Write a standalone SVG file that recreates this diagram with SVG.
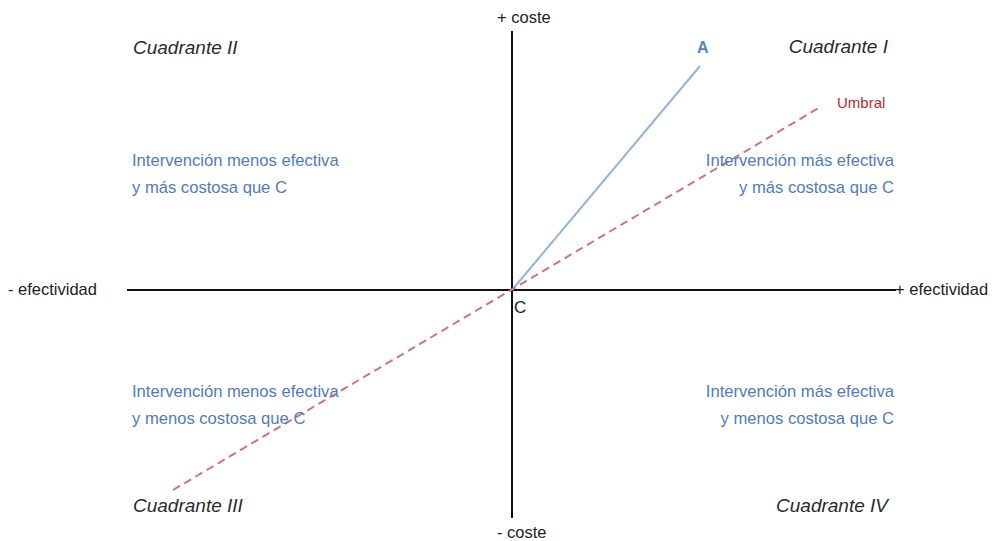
<svg xmlns="http://www.w3.org/2000/svg" width="999" height="541" viewBox="0 0 999 541">
<style>
.q{font-family:"Liberation Sans",Arial,sans-serif;font-style:italic;font-size:19px;fill:#2b2b2b}
.b{font-family:"Liberation Sans",Arial,sans-serif;font-size:16.6px;fill:#4f7bc3}
.ax{font-family:"Liberation Sans",Arial,sans-serif;font-size:16.5px;fill:#222}
.axis{stroke:#111;stroke-width:2;fill:none}
</style>
<rect width="999" height="541" fill="#fff"/>
<g id="connectors">
<line class="axis" x1="512" y1="31" x2="512" y2="518"/>
<line class="axis" x1="127" y1="290" x2="896" y2="290"/>
<line x1="512" y1="290" x2="700" y2="66" stroke="#8fb6dd" stroke-width="2"/>
<line x1="173" y1="490" x2="822" y2="106" stroke="#d3727f" stroke-width="2" stroke-dasharray="8,5"/>
</g>
<g id="axis-labels">
<text class="ax" x="497" y="23">+ coste</text>
<text class="ax" x="497" y="538">- coste</text>
<text class="ax" x="8" y="295">- efectividad</text>
<text class="ax" x="895" y="295">+ efectividad</text>
<text x="514" y="313" font-family="Liberation Sans,Arial,sans-serif" font-size="17" fill="#222">C</text>
<text x="697" y="53" font-family="Liberation Sans,Arial,sans-serif" font-size="16" font-weight="bold" fill="#5b7fc4">A</text>
<text x="837" y="108" font-family="Liberation Sans,Arial,sans-serif" font-size="15" fill="#c0282d">Umbral</text>
</g>
<g id="q1">
<text class="q" x="888" y="53" text-anchor="end">Cuadrante I</text>
<text class="b" x="894" y="166" text-anchor="end">Intervención más efectiva</text>
<text class="b" x="894" y="193" text-anchor="end">y más costosa que C</text>
</g>
<g id="q2">
<text class="q" x="133" y="54">Cuadrante II</text>
<text class="b" x="132" y="166">Intervención menos efectiva</text>
<text class="b" x="132" y="193">y más costosa que C</text>
</g>
<g id="q3">
<text class="q" x="133" y="512">Cuadrante III</text>
<text class="b" x="132" y="397">Intervención menos efectiva</text>
<text class="b" x="132" y="424">y menos costosa que C</text>
</g>
<g id="q4">
<text class="q" x="888" y="512" text-anchor="end">Cuadrante IV</text>
<text class="b" x="894" y="397" text-anchor="end">Intervención más efectiva</text>
<text class="b" x="894" y="424" text-anchor="end">y menos costosa que C</text>
</g>
</svg>
